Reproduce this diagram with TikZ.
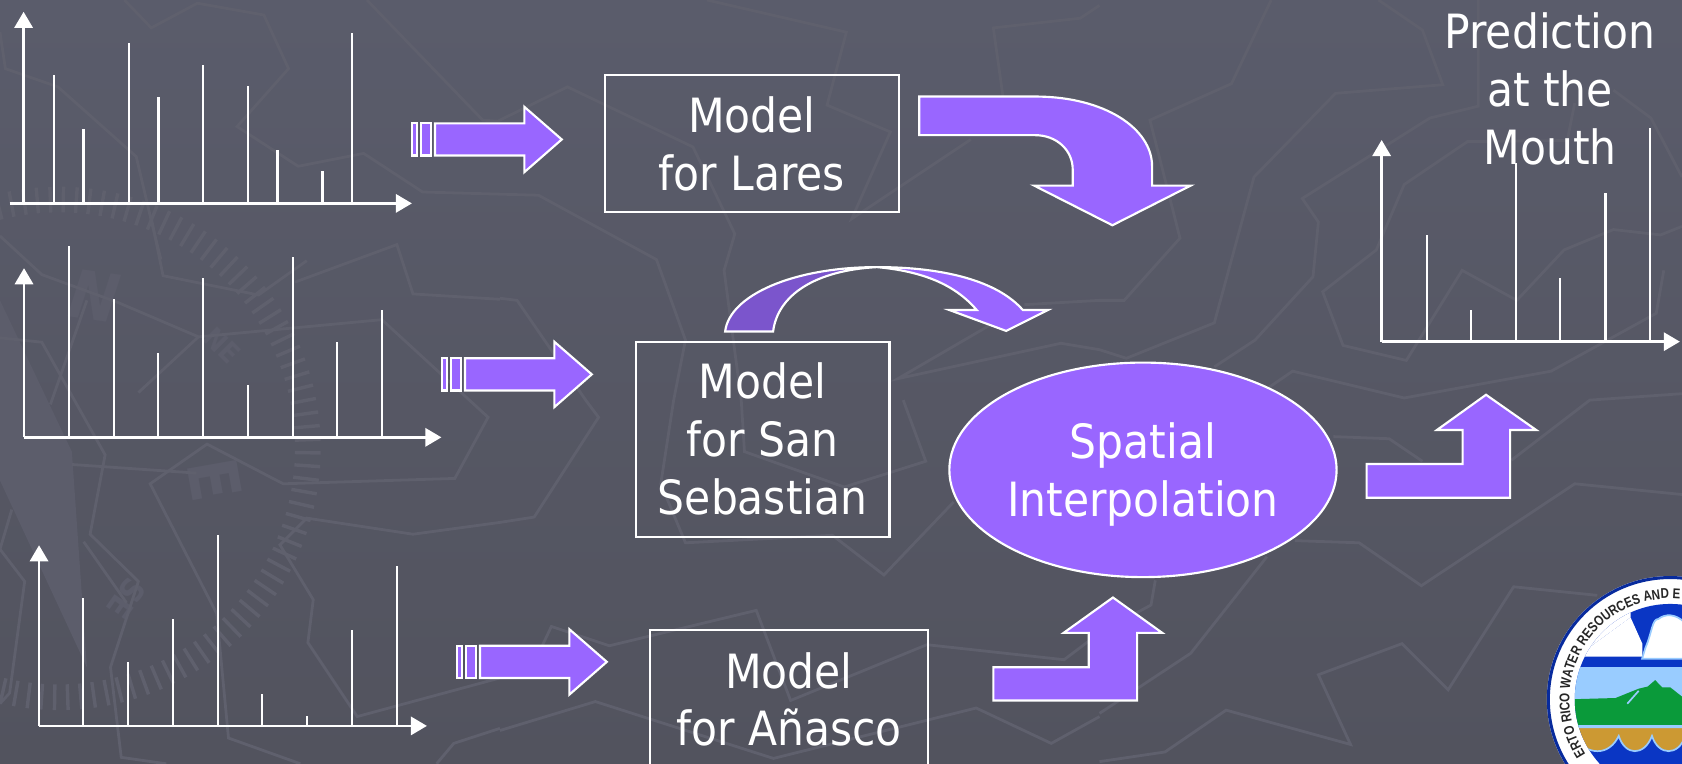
\documentclass[tikz,border=0pt]{standalone}
\usepackage{xcolor}
\usepackage{fontspec}
\setmainfont{DejaVu Sans Condensed}
\newfontfamily\logofont[FakeStretch=0.82]{Liberation Sans}
\usepackage{tikz}
\usetikzlibrary{positioning,arrows.meta,shapes.geometric,decorations.text}

\definecolor{slidetop}{HTML}{5A5C6B}
\definecolor{slidebot}{HTML}{52535E}
\definecolor{mapline}{HTML}{5F606D}
\definecolor{needle}{HTML}{5C5D6B}
\definecolor{purple}{HTML}{9966FF}
\definecolor{darkpurple}{HTML}{7B55CC}
\definecolor{sealblue}{HTML}{0A36C4}
\definecolor{sealsky}{HTML}{99CCFF}
\definecolor{sealgreen}{HTML}{0A9A3A}
\definecolor{sealtan}{HTML}{CC9933}

\tikzset{
  mapstroke/.style={draw=mapline, line width=1.3pt, line join=miter},
  axisline/.style={draw=white, line width=1.2pt, -{Triangle[length=7.5pt,width=8.5pt]}},
  spike/.style={draw=white, line width=1pt},
  blockarrow/.style={draw=white, line width=1pt, fill=purple, line join=miter},
  modelbox/.style={draw=white, line width=1pt, inner sep=0pt, align=center, text=white,
    font=\fontsize{22}{27}\selectfont},
  interp/.style={ellipse, draw=white, line width=1pt, fill=purple, inner sep=0pt, inner xsep=-15pt,
    align=center, text=white, text depth=0pt, font=\fontsize{22}{27}\selectfont},
  caption/.style={align=center, text=white, inner sep=0pt, font=\fontsize{22}{27}\selectfont},
  compassmark/.style={text=needle, inner sep=0pt},
}

\begin{document}
\begin{tikzpicture}[x=0.5pt, y=-0.5pt]
\useasboundingbox (0,0) rectangle (1568,712.2);
\shade[top color=slidetop, bottom color=slidebot] (0,0) rectangle (1568,712.2);

% map outlines and compass behind everything
\fill[needle] (0,280) -- (67,421) -- (81,622) -- (0,448) -- cycle;
\coordinate (compass) at (55,418);
\foreach \a in {-118,-115,...,112}
  \draw[mapstroke, line width=1.6pt] ([shift={(\a:110pt)}]compass) -- ([shift={(\a:122pt)}]compass);
\node[compassmark, rotate=-8, font=\bfseries\itshape\fontsize{31}{31}\selectfont] (mark_n) at (88,276) {N};
\node[compassmark, rotate=-45, font=\bfseries\fontsize{13}{13}\selectfont] (mark_ne) at (207,322) {NE};
\node[compassmark, rotate=-80, font=\bfseries\fontsize{32}{32}\selectfont] (mark_e) at (200,447) {E};
\node[compassmark, rotate=-125, font=\bfseries\fontsize{15}{15}\selectfont] (mark_se) at (118,558) {SE};

\draw[mapstroke] plot coordinates {(116,0) (141,26) (184,3) (246,14) (269,64) (221,118) (278,155) (339,143) (394,179) (502,182) (612,242) (639,317) (628,373) (616,451) (639,506) (776,499) (824,536) (889,468)};
\draw[mapstroke] plot coordinates {(0,30) (5,64) (54,81) (127,146) (143,214) (150,242)};
\draw[mapstroke] plot coordinates {(342,0) (450,112) (464,113) (529,81) (646,137) (685,218) (675,252) (691,373) (694,421) (787,454) (863,430) (842,373)};
\draw[mapstroke] plot coordinates {(659,0) (789,30) (771,98) (830,123) (794,204) (905,130)};
\draw[mapstroke] plot coordinates {(935,90) (926,26) (1007,17) (1025,5)};
\draw[mapstroke] plot coordinates {(955,284) (1025,280) (1048,280) (1100,222) (1072,112) (1148,78) (1185,0)};
\draw[mapstroke] plot coordinates {(923,303) (837,353) (989,320) (1025,326) (1050,334) (1132,301) (1169,165) (1245,87) (1345,79) (1326,28) (1285,0)};
\draw[mapstroke] plot coordinates {(1378,0) (1378,99) (1333,110) (1214,185) (1229,207) (1224,258) (1170,317) (1132,342)};
\draw[mapstroke] plot coordinates {(1468,96) (1461,131) (1368,132) (1309,172) (1283,233) (1233,272) (1252,322) (1311,336) (1363,252) (1414,280) (1458,233) (1504,214) (1548,219) (1568,211)};
\draw[mapstroke] plot coordinates {(1504,84) (1539,110) (1568,165)};
\draw[mapstroke] plot coordinates {(1551,252) (1544,292) (1446,346) (1309,371) (1205,346) (1170,370)};
\draw[mapstroke] plot coordinates {(1243,407) (1295,409) (1326,430)};
\draw[mapstroke] plot coordinates {(1207,504) (1267,506) (1325,546) (1468,451) (1568,461)};
\draw[mapstroke] plot coordinates {(1409,429) (1482,373) (1568,367)};
\draw[mapstroke] plot coordinates {(1489,555) (1411,547) (1350,643) (1307,600) (1229,629) (1259,694) (1143,662) (1086,701) (1025,710)};
\draw[mapstroke] plot coordinates {(1181,519) (1110,609) (1060,642) (1025,665)};
\draw[mapstroke] plot coordinates {(1077,541) (1073,564) (1025,590) (992,615) (864,601) (737,653) (705,569) (568,602) (514,584) (505,603)};
\draw[mapstroke] plot coordinates {(466,681) (555,654) (721,707) (910,660) (980,693) (1025,668)};
\draw[mapstroke] plot coordinates {(466,278) (482,280) (546,373) (558,389) (498,482) (466,487) (385,498) (286,483) (261,508) (292,559) (287,599) (333,668) (466,632)};
\draw[mapstroke] plot coordinates {(0,220) (39,256) (110,282) (185,314) (356,298) (455,389) (424,446) (264,451) (193,414) (140,451) (202,572) (213,688) (280,712)};
\draw[mapstroke] plot coordinates {(141,203) (152,257) (241,275) (286,243)};
\draw[mapstroke] plot coordinates {(466,279) (385,274) (370,228) (275,263)};
\draw[mapstroke] plot coordinates {(185,314) (129,366)};
\draw[mapstroke] plot coordinates {(0,315) (39,319) (98,424) (84,498) (129,542) (103,622) (113,706) (155,712)};
\draw[mapstroke] plot coordinates {(67,433) (183,441)};
\draw[mapstroke] plot coordinates {(0,512) (23,542) (9,646) (0,656)};
\draw[mapstroke] plot coordinates {(11,475) (0,512)};
\draw[mapstroke] plot coordinates {(78,505) (118,562)};
\draw[mapstroke] plot coordinates {(466,679) (423,693) (407,712)};
\draw[mapstroke] plot coordinates {(47,377) (81,280)};

% charts
\coordinate (xstart_1) at (9,189.6);
\coordinate (origin_1) at (22,189.6);
\coordinate (xend_1) at (384,189.6);
\coordinate (ytop_1) at (22,11);
\draw[axisline] (xstart_1) -- (xend_1);
\draw[axisline] (origin_1) -- (ytop_1);
\foreach \x/\y in {50.3/70.2,77.8/120.3,119.9/40.4,147.7/90.4,189/60.6,230.8/80.2,258.7/139.8,300.7/159.7,328.2/30.5}
  \draw[spike] (\x,189.6) -- (\x,\y);

\coordinate (origin_2) at (22.4,407.7);
\coordinate (xend_2) at (411.5,407.7);
\coordinate (ytop_2) at (22.4,250);
\draw[axisline] (origin_2) -- (xend_2);
\draw[axisline] (origin_2) -- (ytop_2);
\foreach \x/\y in {64/229.3,106/279,147.6/329,189/259,231/359,273/239.4,314.5/319,356/289.4}
  \draw[spike] (\x,407.7) -- (\x,\y);

\coordinate (origin_3) at (36.4,676.7);
\coordinate (xend_3) at (398,676.7);
\coordinate (ytop_3) at (36.4,508.3);
\draw[axisline] (origin_3) -- (xend_3);
\draw[axisline] (origin_3) -- (ytop_3);
\foreach \x/\y in {77.7/557.3,119.6/617.3,161.3/577.4,203.2/498.3,244.6/646.8,286.5/667,328/587,370/527.8}
  \draw[spike] (\x,676.7) -- (\x,\y);

\coordinate (origin_4) at (1288,318.5);
\coordinate (xend_4) at (1566,318.5);
\coordinate (ytop_4) at (1288,130.5);
\draw[axisline] (origin_4) -- (xend_4);
\draw[axisline] (origin_4) -- (ytop_4);
\foreach \x/\y in {1330/219.4,1371.4/289,1413/152,1454.5/259.5,1496.7/179.6,1538.5/119.6}
  \draw[spike] (\x,318.5) -- (\x,\y);

% striped arrows
\foreach \dx/\dy in {0/0,28/219,42/487} {
  \begin{scope}[shift={(\dx,\dy)}]
    \draw[blockarrow] (384,115) rectangle (388.5,145);
    \draw[blockarrow] (392.5,115) rectangle (402,145);
    \draw[blockarrow] (405.5,115) -- (488.8,115) -- (488.8,99.6) -- (523.7,130) -- (488.8,160.5)
      -- (488.8,145) -- (405.5,145) -- cycle;
  \end{scope}
}

\node[modelbox, minimum width=137pt, minimum height=64pt] (box_lares) at (701,134) {Model\\for Lares};
\node[modelbox, minimum width=118.2pt, minimum height=90.9pt] (box_san) at (711,409.4) {Model\\for San\\Sebastian};
\node[modelbox, minimum width=129.5pt, minimum height=65pt] (box_anasco) at (735.5,652) {Model\\for Añasco};
\node[interp, minimum width=180.5pt, minimum height=100pt] (spatial) at (1065.5,438) {Spatial\\Interpolation};
\node[caption] (mouth_text) at (1445,83) {Prediction\\at the\\Mouth};

% block arrows between the boxes
\draw[blockarrow] (857,90) -- (965,90) .. controls (1030,90) and (1074,120) .. (1074,155) -- (1074,173)
  -- (1110,173) -- (1037,210) -- (964,173) -- (1000,173) -- (1000,158)
  .. controls (1000,140) and (985,126) .. (965,126) -- (857,126) -- cycle;
\draw[blockarrow, fill=darkpurple] (676,309) .. controls (680,275) and (740,249) .. (817.6,249)
  .. controls (760,252) and (725,275) .. (720.7,309) -- cycle;
\draw[blockarrow] (817.6,249) .. controls (880,249) and (930,262) .. (953.5,289) -- (977,289)
  -- (938,308.5) -- (885,289) -- (910.5,289) .. controls (890,265) and (860,253) .. (817.6,249) -- cycle;
\draw[blockarrow] (926,622) -- (1015,622) -- (1015,590) -- (991.5,590) -- (1037.5,557) -- (1083.5,590)
  -- (1060,590) -- (1060,653) -- (926,653) -- cycle;
\draw[blockarrow] (1274,432.5) -- (1363.5,432.5) -- (1363.5,400.8) -- (1339.6,400.8) -- (1385.3,368)
  -- (1432,400.8) -- (1407.8,400.8) -- (1407.8,464) -- (1274,464) -- cycle;

% seal
\coordinate (seal) at (1557,652);
\fill[white] (seal) circle[radius=57.5pt];
\draw[sealblue!80!black, line width=1.4pt] (seal) circle[radius=56.8pt];
\begin{scope}
  \clip (seal) circle[radius=44.5pt];
  \fill[sealblue] (seal) circle[radius=45pt];
  \fill[white] (1470,612) -- (1520,575.5) -- (1531,600) -- (1531,612) -- cycle;
  \fill[white] (1470,612) -- (1470,560) -- (1520,560) -- (1520,575.5) -- cycle;
  \draw[sealsky, line width=0.8pt, fill=white] (1530.8,614) -- (1534,603.5) .. controls (1540,590) and (1540,577) .. (1546,577)
    .. controls (1552,572) and (1562,572) .. (1570,580) -- (1570,614) -- cycle;
  \fill[sealsky] (1460,622) rectangle (1570,652);
  \fill[sealgreen] (1460,652) -- (1506,650.7) -- (1527.6,642) -- (1536,640) -- (1543,634) -- (1549.4,640.7)
    -- (1557,640.7) -- (1570,651) -- (1570,678) -- (1460,678) -- cycle;
  \draw[sealsky, line width=0.8pt] (1517,656) -- (1527.6,644);
  \fill[sealsky] (1460,675.5) rectangle (1570,678);
  \draw[sealsky, line width=0.8pt, fill=sealtan] (1465,678) -- (1465,686) .. controls (1480,705) and (1500,705) .. (1509,686)
    .. controls (1515,705) and (1533,705) .. (1540,686) .. controls (1546,705) and (1565,705) .. (1571,686)
    -- (1571,678) -- cycle;
\end{scope}
\path[decorate, decoration={text along path, text align=left,
    text={|\logofont\bfseries\fontsize{6.6}{6.6}\selectfont\color{black!85}|ERTO RICO WATER RESOURCES AND E}}]
  ([shift={(213:47pt)}]seal) arc[start angle=213, end angle=70, radius=47pt];

\end{tikzpicture}
\end{document}
